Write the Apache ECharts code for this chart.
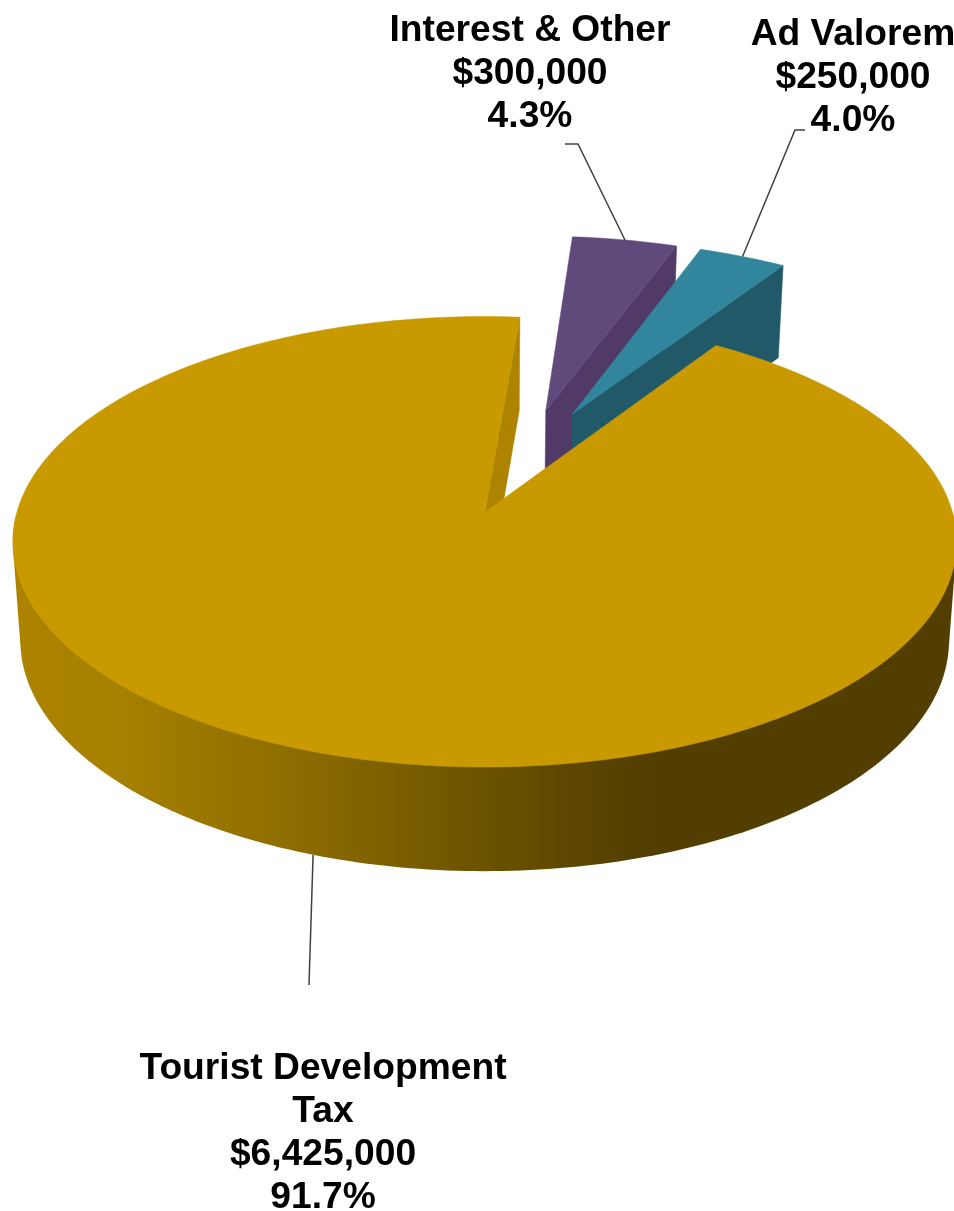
<!DOCTYPE html>
<html>
<head>
<meta charset="utf-8">
<style>html,body{margin:0;padding:0;background:#fff}#chart{width:954px;height:1211px}</style>
<script src="https://cdn.jsdelivr.net/npm/echarts@6/dist/echarts.min.js"></script>
</head>
<body>
<div id="chart"></div>
<script>
// Revenue sources, in drawing order (far slices first).
const categories = ['Interest & Other', 'Ad Valorem', 'Tourist Development\nTax'];
const amounts = [300000, 250000, 6425000];
const shares = ['4.3%', '4.0%', '91.7%'];

const topColors = ['#604a7b', '#31859c', '#c99a00'];
const wallColors = ['#513a68', '#215968', '#ad8300'];
const labelAnchors = [[530, 74], [853, 78], [323, 1133]];
const leaderBends = [[[578, 144], [565, 144]], [[795, 130], [805, 130]], [[309, 985]]];

const START_DEG = 4.9;
const EXPLODE = 0.255;
const PIE_CENTRE = [0.087, -0.244];

// Perspective projection of the pie's disk plane onto the page.
const ORIGIN = [483, 513];
const SCALE_X = 468, SCALE_Y = 221.6, PERSP = 0.1308;
const BASE_SX = 0.984, BASE_SY = 1.024, BASE_DROP = 98;

function project(u, v, base) {
  const s = 1 / (1 - PERSP * v);
  const dx = SCALE_X * u * s, dy = SCALE_Y * v * s;
  return base
    ? [ORIGIN[0] + dx * BASE_SX, ORIGIN[1] + dy * BASE_SY + BASE_DROP]
    : [ORIGIN[0] + dx, ORIGIN[1] + dy];
}

const total = amounts.reduce((a, b) => a + b, 0);
const slices = [];
amounts.reduce((from, value) => {
  const to = from + value / total * 360;
  slices.push({ from, to, mid: (from + to) / 2 });
  return to;
}, START_DEG);

function apexOf(sl) {
  const m = sl.mid * Math.PI / 180;
  return [PIE_CENTRE[0] + EXPLODE * Math.sin(m), PIE_CENTRE[1] - EXPLODE * Math.cos(m)];
}
function rimPoint(sl, deg) {
  const a = apexOf(sl), t = deg * Math.PI / 180;
  return [a[0] + Math.sin(t), a[1] - Math.cos(t)];
}
function rim(sl, base, keep) {
  const pts = [];
  const n = Math.ceil(sl.to - sl.from);
  for (let i = 0; i <= n; i++) {
    const p = rimPoint(sl, sl.from + (sl.to - sl.from) * i / n);
    if (!keep || keep(p)) pts.push(project(p[0], p[1], base));
  }
  return pts;
}

// Outline of the front wall: convex hull of the near half of both rims.
function hull(points) {
  const pts = points.slice().sort((a, b) => a[0] - b[0] || a[1] - b[1]);
  const cross = (o, a, b) => (a[0] - o[0]) * (b[1] - o[1]) - (a[1] - o[1]) * (b[0] - o[0]);
  const sweep = list => {
    const out = [];
    list.forEach(p => {
      while (out.length > 1 && cross(out[out.length - 2], out[out.length - 1], p) <= 0) out.pop();
      out.push(p);
    });
    out.pop();
    return out;
  };
  return sweep(pts).concat(sweep(pts.slice().reverse()));
}

// Side wall shading runs left to right across the page.
const sideFill = new echarts.graphic.LinearGradient(10, 0, 954, 0, [
  { offset: 0, color: '#ad8300' },
  { offset: 0.12, color: '#a68000' },
  { offset: 0.3, color: '#8d6d00' },
  { offset: 0.45, color: '#745900' },
  { offset: 0.6, color: '#5c4600' },
  { offset: 0.68, color: '#523e00' },
  { offset: 1, color: '#523e00' }
], true);

function poly(points, fill) {
  return {
    type: 'polygon', shape: { points },
    style: { fill, stroke: typeof fill === 'string' ? fill : null, lineWidth: 0.5 }
  };
}

function renderSlice(params, api) {
  const i = api.value(0);
  const sl = slices[i];
  const a = apexOf(sl);
  const apexTop = project(a[0], a[1], false), apexBase = project(a[0], a[1], true);
  const last = rimPoint(sl, sl.to);
  const endTop = project(last[0], last[1], false), endBase = project(last[0], last[1], true);
  const children = [];

  // Cut face along the slice's closing edge.
  children.push(poly([apexTop, endTop, endBase, apexBase], wallColors[i]));

  // Outer wall only shows on the large slice, which wraps round the front.
  if (i === 2) {
    const near = p => p[1] >= 0;
    children.push(poly(hull(rim(sl, false, near).concat(rim(sl, true, near))), sideFill));
  }
  children.push(poly([apexTop].concat(rim(sl, false)), topColors[i]));

  // Leader line from the middle of the rim to the label.
  const midP = rimPoint(sl, sl.mid);
  const midOnFront = Math.cos(sl.mid * Math.PI / 180) < 0;
  const leader = [project(midP[0], midP[1], midOnFront)].concat(leaderBends[i]);
  children.push({
    type: 'polyline', shape: { points: leader },
    style: { stroke: '#404040', lineWidth: 1.5, fill: null }
  });

  const lines = [categories[i], '$' + api.value(1).toLocaleString('en-US'), shares[i]];
  children.push({
    type: 'text', x: labelAnchors[i][0], y: labelAnchors[i][1],
    style: {
      text: lines.join('\n'), fill: '#000',
      font: 'bold 37.2px "Liberation Sans", Arial, sans-serif',
      lineHeight: 43, align: 'center', verticalAlign: 'middle'
    }
  });
  return { type: 'group', children };
}

const chart = echarts.init(document.getElementById('chart'), null, { renderer: 'canvas' });
chart.setOption({
  animation: false,
  backgroundColor: '#ffffff',
  series: [{
    type: 'custom',
    coordinateSystem: 'none',
    silent: true,
    clip: false,
    renderItem: renderSlice,
    data: amounts.map((v, i) => [i, v])
  }]
});
</script>
</body>
</html>
